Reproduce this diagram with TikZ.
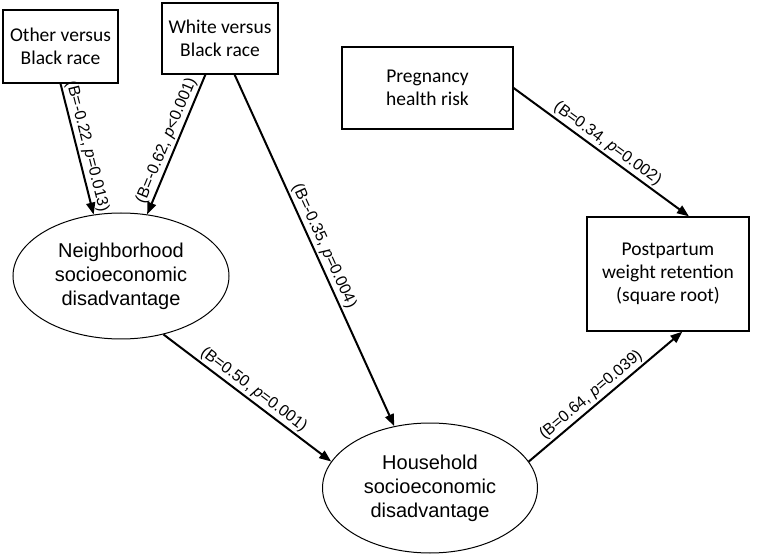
\documentclass[tikz,border=0pt]{standalone}
\usepackage{fontspec}
\setmainfont{Liberation Sans}
\newfontfamily\boxfont{Carlito}
\usetikzlibrary{shapes.geometric,arrows.meta}
\tikzset{
  rbox/.style={draw, line width=1.3pt, align=center, font=\boxfont\fontsize{19.5}{23}\selectfont, inner sep=0pt},
  oval/.style={draw, ellipse, line width=1pt, align=center, font=\fontsize{20}{24}\selectfont, inner sep=0pt},
  path/.style={line width=2pt, -{Triangle[length=12pt,width=9pt]}},
  lbl/.style={font=\fontsize{16}{18}\selectfont, sloped, above, inner sep=2pt, midway}
}
\begin{document}
\begin{tikzpicture}[x=1pt,y=-1pt]
\useasboundingbox (0,0) rectangle (772,556);
\node[rbox, minimum width=115pt, minimum height=73pt] (other) at (60.5,46.5) {Other versus\\Black race};
\node[rbox, minimum width=116pt, minimum height=71pt] (white) at (220,38.5) {White versus\\Black race};
\node[rbox, minimum width=171pt, minimum height=82pt] (preg) at (427.5,88) {Pregnancy\\health risk};
\node[rbox, minimum width=162pt, minimum height=114pt] (post) at (668,274) {Postpartum\\weight retention\\(square root)};
\node[oval, minimum width=216pt, minimum height=126pt] (neigh) at (121,276) {Neighborhood\\socioeconomic\\disadvantage};
\node[oval, minimum width=215pt, minimum height=130pt] (house) at (430,488) {Household\\socioeconomic\\disadvantage};
\draw[path] (other.south) -- node[lbl] {(B=-0.22, \textit{p}=0.013)} (neigh.114);
\draw[path] (white.-112) -- node[lbl] {(B=-0.62, \textit{p}<0.001)} (neigh.67);
\draw[path] (white.-68) -- node[lbl] {(B=-0.35, \textit{p}=0.004)} (house.120);
\draw[path] (preg.east) -- node[lbl] {(B=0.34, \textit{p}=0.002)} (post.70.6);
\draw[path] (neigh.-54.6) -- node[lbl] {(B=0.50, \textit{p}=0.001)} (house.165);
\draw[path] (house.15) -- node[lbl, pos=0.45] {(B=0.64, \textit{p}=0.039)} (post.-76);
\end{tikzpicture}
\end{document}
